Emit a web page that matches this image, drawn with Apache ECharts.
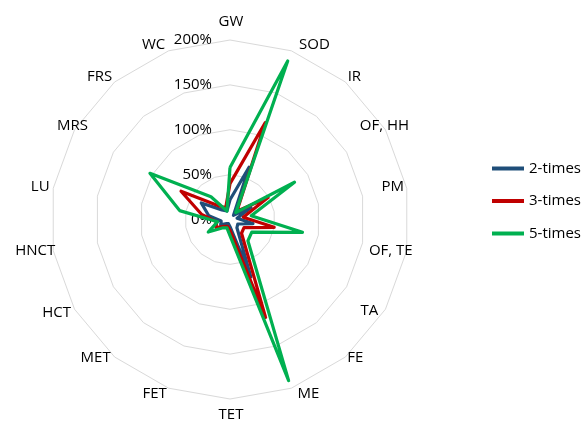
<!DOCTYPE html>
<html>
<head>
<meta charset="utf-8">
<script src="https://cdn.jsdelivr.net/npm/echarts@6/dist/echarts.min.js"></script>
<style>
  html, body { margin: 0; padding: 0; background: #fff; }
  #chart { width: 583px; height: 422px; }
</style>
</head>
<body>
<div id="chart"></div>
<script>
// Axes of the radar, clockwise from the top
const categories = ['GW', 'SOD', 'IR', 'OF, HH', 'PM', 'OF, TE', 'TA', 'FE', 'ME',
  'TET', 'FET', 'MET', 'HCT', 'HNCT', 'LU', 'MRS', 'FRS', 'WC'];

// Values in percent
const twoTimes   = [22, 62, 6, 27, 8, 26, 10, 12, 68, 8, 5, 6, 12, 10, 24, 37, 14, 10];
const threeTimes = [40, 115, 12, 49, 15, 50, 18, 20, 116, 12, 8, 10, 18, 15, 32, 63, 20, 14];
const fiveTimes  = [58, 188, 10, 83, 24, 82, 28, 31, 191, 18, 10, 12, 28, 14, 57, 103, 33, 10];

const seriesNames = ['2-times', '3-times', '5-times'];
const seriesColors = ['#1F4E79', '#C00000', '#00B050'];
const scaleMax = 200;
const tickCount = 4;

const FONT = '"Open Sans", "Noto Sans", sans-serif';

// Offset [dx, dy] of each axis name's centre from the tip of its axis
const nameOffsets = [
  [1, -18], [23, -6], [9, -5], [-1, -4], [-14, -2], [-16, 0], [-16, 1], [10, 1], [17, 6],
  [1, 16], [-14, 6], [-19, 1], [-18, 3], [-18, 0], [-13, -2], [-2, -4], [-15, -5], [-15, -6]
];

// ECharts lays radar axes out counter-clockwise; reorder so they run clockwise.
const order = categories.map((_, i) => (i === 0 ? 0 : categories.length - i));

// One rich style per axis name; padding moves the centred text by half its amount.
const nameRich = {};
nameOffsets.forEach(([dx, dy], i) => {
  nameRich['n' + i] = {
    color: '#000',
    fontSize: 15,
    fontFamily: FONT,
    padding: [Math.max(0, 2 * dy), Math.max(0, -2 * dx), Math.max(0, -2 * dy), Math.max(0, 2 * dx)]
  };
});

const chart = echarts.init(document.getElementById('chart'), null, { renderer: 'canvas' });

const indicator = order.map((k, i) => {
  const ind = { name: categories[k], min: 0, max: scaleMax };
  if (i === 0) {
    ind.axisLabel = {
      show: true,
      inside: true,
      margin: 18,
      color: '#000',
      fontSize: 15,
      fontFamily: FONT,
      formatter: '{value}%'
    };
  }
  return ind;
});

const values = [twoTimes, threeTimes, fiveTimes];

chart.setOption({
  animation: false,
  backgroundColor: '#fff',
  legend: {
    orient: 'vertical',
    left: 487,
    top: 156,
    itemGap: 17.5,
    itemWidth: 32,
    itemHeight: 4,
    icon: 'rect',
    textStyle: { color: '#000', fontSize: 15, fontFamily: FONT },
    data: seriesNames
  },
  radar: {
    center: [230, 219.5],
    radius: 179.5,
    startAngle: 90,
    splitNumber: tickCount,
    shape: 'polygon',
    indicator: indicator,
    nameGap: 0,
    axisName: {
      color: '#000',
      fontSize: 15,
      fontFamily: FONT,
      align: 'center',
      verticalAlign: 'middle',
      formatter: (name) => '{n' + categories.indexOf(name) + '|' + name + '}',
      rich: nameRich
    },
    axisLine: { show: false },
    axisTick: { show: false },
    axisLabel: { show: false },
    splitArea: { show: false },
    splitLine: { lineStyle: { color: '#D9D9D9', width: 1 } }
  },
  series: [{
    type: 'radar',
    symbol: 'none',
    data: values.map((v, i) => ({
      name: seriesNames[i],
      value: order.map(k => v[k]),
      lineStyle: { color: seriesColors[i], width: 3.2 },
      itemStyle: { color: seriesColors[i] }
    }))
  }]
});
</script>
</body>
</html>
